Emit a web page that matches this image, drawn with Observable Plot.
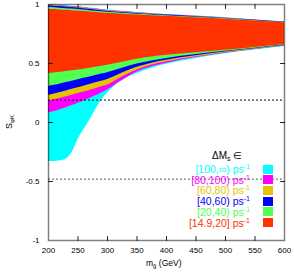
<!DOCTYPE html>
<html>
<head>
<meta charset="utf-8">
<script src="https://cdn.jsdelivr.net/npm/d3@7"></script>
<script src="https://cdn.jsdelivr.net/npm/@observablehq/plot@0.6"></script>
<style>
  body { margin: 0; background: #fff; }
  #wrap { position: relative; width: 294px; height: 273px; font-family: "Liberation Sans", Arial, sans-serif; }
  #wrap svg { position: absolute; left: 0; top: 0; }
  .ov { position: absolute; white-space: nowrap; line-height: 1; }
  .lg { position: absolute; right: 44px; font-size: 10.5px; white-space: nowrap; line-height: 10px; text-align: right; }
  .lg sup { font-size: 7px; vertical-align: 4px; line-height: 0; }
  .sw { position: absolute; left: 263px; width: 10px; height: 9px; }
</style>
</head>
<body>
<div id="wrap"></div>
<script>
// m_gluino grid (GeV)
const xs = [200,210,220,230,240,250,260,270,280,290,300,325,350,375,400,450,500,550,600];

// S_phiK band edges per Delta M_s range
const redLo = [0.415,0.42,0.425,0.432,0.438,0.445,0.452,0.46,0.468,0.477,0.486,0.51,0.535,0.555,0.57,0.592,0.612,0.635,0.66];
const redHi = [0.96,0.957,0.954,0.951,0.948,0.945,0.941,0.937,0.933,0.929,0.925,0.917,0.91,0.905,0.9,0.888,0.876,0.86,0.845];
const greenLo = [0.305,0.315,0.327,0.338,0.35,0.362,0.374,0.386,0.398,0.41,0.422,0.46,0.495,0.522,0.543,0.576,0.604,0.63,0.656];
const greenHi = [0.977,0.973,0.969,0.965,0.962,0.958,0.953,0.948,0.943,0.938,0.934,0.925,0.917,0.911,0.905,0.892,0.879,0.863,0.848];
const blueLo = [0.23,0.242,0.255,0.268,0.281,0.295,0.308,0.322,0.336,0.35,0.365,0.42,0.468,0.503,0.528,0.565,0.597,0.625,0.652];
const blueHi = [0.99,0.986,0.982,0.978,0.974,0.97,0.965,0.959,0.953,0.948,0.943,0.933,0.924,0.917,0.91,0.896,0.882,0.866,0.85];
const yellowLo = [0.182,0.193,0.205,0.218,0.231,0.245,0.258,0.272,0.286,0.302,0.318,0.385,0.445,0.487,0.514,0.557,0.592,0.621,0.65];
const yellowHi = [0.995,0.991,0.987,0.983,0.979,0.975,0.97,0.964,0.958,0.952,0.947,0.937,0.927,0.919,0.912,0.898,0.884,0.867,0.851];
const magentaLo = [0.08,0.094,0.109,0.126,0.144,0.163,0.183,0.204,0.226,0.25,0.275,0.355,0.427,0.472,0.503,0.55,0.587,0.618,0.648];
const magentaHi = [0.998,0.994,0.99,0.986,0.982,0.978,0.973,0.967,0.961,0.955,0.95,0.94,0.93,0.921,0.914,0.9,0.886,0.868,0.852];
const cyanLo = [-0.33,-0.33,-0.325,-0.31,-0.255,-0.145,-0.06,0.02,0.11,0.19,0.25,0.355,0.415,0.46,0.493,0.543,0.583,0.614,0.645];
const cyanHi = [1.0,0.997,0.993,0.989,0.985,0.981,0.976,0.97,0.964,0.958,0.953,0.943,0.933,0.924,0.916,0.902,0.888,0.869,0.853];

const bandLabels = ["[100,\u221E)", "[80,100)", "[60,80)", "[40,60)", "[20,40)", "[14.9,20]"];
const bandColors = ["#00ffff", "#ff00ff", "#e6c300", "#0000ff", "#50ff50", "#ff3300"];
const bandLo = [cyanLo, magentaLo, yellowLo, blueLo, greenLo, redLo];
const bandHi = [cyanHi, magentaHi, yellowHi, blueHi, greenHi, redHi];

// measured lines
const hLines = [0.19, -0.48];

const xTicks = [200,250,300,350,400,450,500,550,600];
const yTicks = [-1,-0.5,0,0.5,1];
const xInner = [250,300,350,400,450,500,550];
const yInner = [-0.5,0,0.5];

const tickShape = { draw(ctx, l) { ctx.moveTo(0, 0); ctx.lineTo(0, -l); } };

const areaMarks = bandLo.map((lo, k) => {
  const rows = xs.map((x, i) => ({x, lo: lo[i], hi: bandHi[k][i]}));
  return Plot.areaY(rows, {x: "x", y1: "lo", y2: "hi", fill: bandColors[k], curve: "monotone-x"});
});

const tickOpts = {length: 4, anchor: "start", shape: tickShape, stroke: "#222", strokeWidth: 1};

const chart = Plot.plot({
  width: 294, height: 273,
  marginLeft: 48, marginRight: 10, marginTop: 4, marginBottom: 33,
  x: {domain: [200, 600]},
  y: {domain: [-1, 1]},
  style: {fontFamily: "Liberation Sans, Arial, sans-serif", fontSize: "8px", background: "white", color: "#000"},
  marks: [
    ...areaMarks,
    Plot.ruleY([hLines[0]], {stroke: "#000", strokeDasharray: "2,2", strokeWidth: 1}),
    Plot.ruleY([hLines[1]], {stroke: "#333", strokeDasharray: "2,2", strokeWidth: 0.8}),
    Plot.vector(yInner, {y: d => d, frameAnchor: "left", rotate: 90, ...tickOpts}),
    Plot.vector(yInner, {y: d => d, frameAnchor: "right", rotate: 270, ...tickOpts}),
    Plot.vector(xInner, {x: d => d, frameAnchor: "bottom", rotate: 0, ...tickOpts}),
    Plot.vector(xInner, {x: d => d, frameAnchor: "top", rotate: 180, ...tickOpts}),
    Plot.axisX(xTicks, {tickSize: 0, tickPadding: 7, label: null, fill: "#000"}),
    Plot.axisY(yTicks, {tickSize: 0, tickPadding: 9, label: null, fill: "#000", tickFormat: d => String(d)}),
    Plot.frame({stroke: "#000", strokeOpacity: 0.5, strokeWidth: 1.5})
  ]
});

const wrap = document.getElementById("wrap");
wrap.appendChild(chart);

function addDiv(html, css, cls) {
  const d = document.createElement("div");
  d.className = cls || "ov";
  d.innerHTML = html;
  Object.assign(d.style, css);
  wrap.appendChild(d);
  return d;
}

// axis titles
addDiv('m<sub style="font-size:6px;vertical-align:-2px">g\u0303</sub> (GeV)', {left: "146px", top: "259px", fontSize: "8.5px"});
addDiv('S<sub style="font-size:6px;vertical-align:-2px">\u03C6K</sub>', {left: "3px", top: "117px", fontSize: "9px", transform: "rotate(-90deg)", transformOrigin: "center"});

// legend
addDiv('\u0394M<sub style="font-size:7px;vertical-align:-2px">s</sub> \u2208', {left: "212px", top: "151px", fontSize: "10px"});
bandLabels.forEach((lab, i) => {
  const cy = 169 + 10.7 * i;
  addDiv(lab + ' ps<sup>-1</sup>', {top: (cy - 5) + "px", color: bandColors[i]}, "lg");
  addDiv('', {top: (cy - 4.5) + "px", background: bandColors[i]}, "sw");
});
</script>
</body>
</html>
